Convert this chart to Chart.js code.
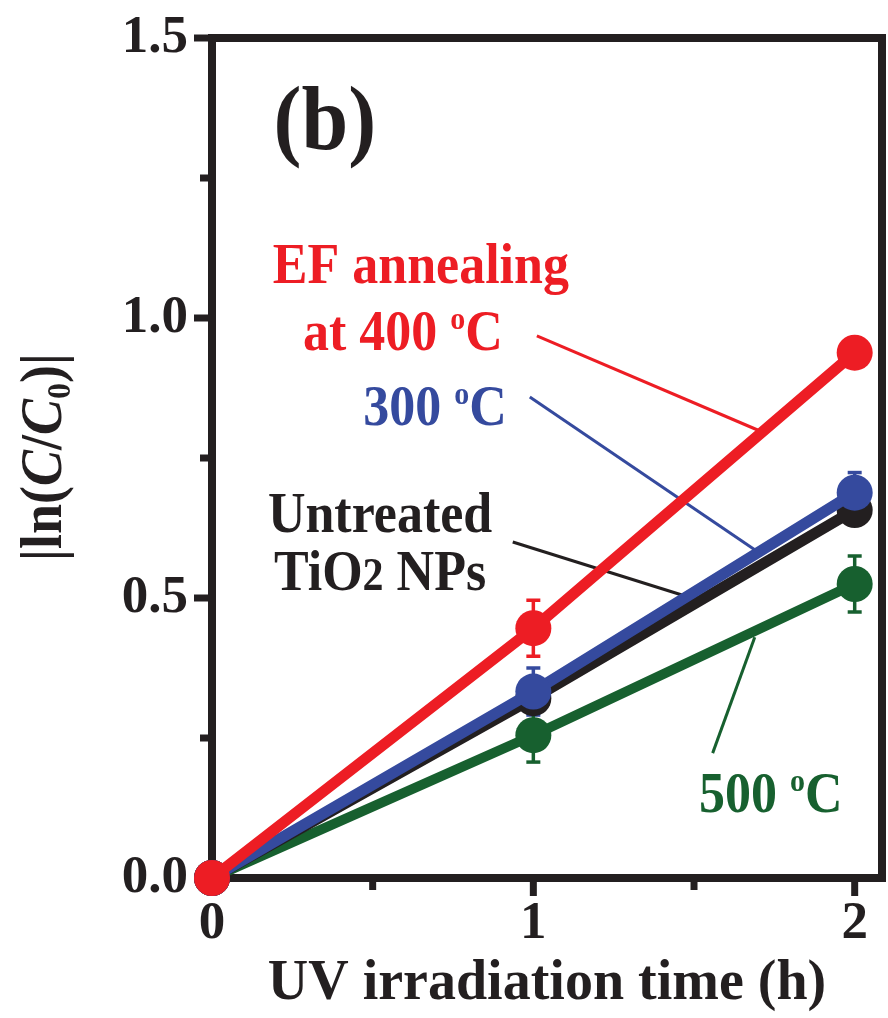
<!DOCTYPE html>
<html>
<head>
<meta charset="utf-8">
<script src="https://cdn.jsdelivr.net/npm/chart.js@4/dist/chart.umd.min.js"></script>
<style>
    html, body { margin: 0; padding: 0; background: #fff; }
    #wrap { width: 888px; height: 1018px; }
</style>
</head>
<body>
<div id="wrap"><canvas id="chart" width="888" height="1018"></canvas></div>
<script>
// UV irradiation time (h)
const hours = [0, 1, 2];
const xMajorTicks = [0, 1, 2];
const xMinorTicks = [0.5, 1.5];
const yMajorTicks = [0, 0.5, 1.0, 1.5];
const yMinorTicks = [0.25, 0.75, 1.25];

// |ln(C/C0)| per sample
const untreated = [0, 0.321, 0.657];
const anneal300 = [0, 0.333, 0.688];
const anneal400 = [0, 0.446, 0.938];
const anneal500 = [0, 0.255, 0.525];

// error bar half heights
const untreatedErr = [0, 0.02, 0.02];
const anneal300Err = [0, 0.042, 0.036];
const anneal400Err = [0, 0.05, 0.02];
const anneal500Err = [0, 0.048, 0.05];

const RED = '#ED1D24';
const BLUE = '#354A9E';
const BLACK = '#231F20';
const GREEN = '#17602F';
const FONT = "'Liberation Serif', 'Times New Roman', serif";
const STRETCH = 1.08; // lettering is a little taller than the stock face

// labels, [x, y] in data units, baseline centred
const labels = [
    { at: [0.351, 1.302], size: 84, color: BLACK, parts: [{ t: '(b)' }] },
    { at: [0.650, 1.0625], size: 52, color: RED, parts: [{ t: 'EF annealing' }] },
    { at: [0.594, 0.943], size: 52, color: RED, parts: [{ t: 'at 400 ' }, { t: 'o', scale: 0.58, rise: 0.38 }, { t: 'C' }] },
    { at: [0.694, 0.809], size: 52, color: BLUE, parts: [{ t: '300 ' }, { t: 'o', scale: 0.58, rise: 0.38 }, { t: 'C' }] },
    { at: [0.523, 0.618], size: 52, color: BLACK, parts: [{ t: 'Untreated' }] },
    { at: [0.523, 0.514], size: 52, color: BLACK, parts: [{ t: 'TiO' }, { t: '2', scale: 0.8 }, { t: ' NPs' }] },
    { at: [1.739, 0.118], size: 52, color: GREEN, parts: [{ t: '500 ' }, { t: 'o', scale: 0.58, rise: 0.38 }, { t: 'C' }] },
];

// leader lines from the labels to their curves
const leaders = [
    { color: RED, from: [1.011, 0.968], to: [1.698, 0.800] },
    { color: BLUE, from: [0.989, 0.859], to: [1.689, 0.586] },
    { color: BLACK, from: [0.936, 0.600], to: [1.465, 0.505] },
    { color: GREEN, from: [1.558, 0.223], to: [1.689, 0.430] },
];

function series(label, values, errs, color, width) {
    return {
        label: label,
        data: hours.map((h, i) => ({ x: h, y: values[i] })),
        errs: errs,
        showLine: true,
        borderColor: color,
        backgroundColor: color,
        borderWidth: width,
        pointRadius: 18,
        pointBorderWidth: 0,
        pointBackgroundColor: color,
        clip: false,
    };
}

function drawRich(ctx, parts, x, y, size, color) {
    ctx.save();
    ctx.translate(x, y);
    ctx.scale(1, STRETCH);
    ctx.fillStyle = color;
    ctx.textBaseline = 'alphabetic';
    ctx.textAlign = 'left';
    let total = 0;
    const runs = parts.map(p => {
        const font = (p.italic ? 'italic ' : '') + 'bold ' + Math.round(size * (p.scale || 1)) + 'px ' + FONT;
        ctx.font = font;
        const w = ctx.measureText(p.t).width;
        total += w;
        return { font, w, p };
    });
    let cx = -total / 2;
    runs.forEach(r => {
        ctx.font = r.font;
        ctx.fillText(r.p.t, cx, -(r.p.rise || 0) * size + (r.p.drop || 0) * size);
        cx += r.w;
    });
    ctx.restore();
}

const decorations = {
    id: 'decorations',
    beforeDatasetsDraw(chart) {
        const ctx = chart.ctx;
        const xs = chart.scales.x, ys = chart.scales.y;
        const a = chart.chartArea;

        // frame and outward ticks
        ctx.save();
        ctx.strokeStyle = BLACK;
        ctx.lineWidth = 8;
        ctx.strokeRect(a.left, a.top, a.right - a.left, a.bottom - a.top);
        ctx.lineWidth = 7;
        ctx.lineCap = 'butt';
        const tick = (x1, y1, x2, y2) => { ctx.beginPath(); ctx.moveTo(x1, y1); ctx.lineTo(x2, y2); ctx.stroke(); };
        xMajorTicks.forEach(v => { const p = xs.getPixelForValue(v); tick(p, a.bottom, p, a.bottom + 18); });
        xMinorTicks.forEach(v => { const p = xs.getPixelForValue(v); tick(p, a.bottom, p, a.bottom + 12); });
        yMajorTicks.forEach(v => { const p = ys.getPixelForValue(v); tick(a.left, p, a.left - 18, p); });
        yMinorTicks.forEach(v => { const p = ys.getPixelForValue(v); tick(a.left, p, a.left - 12, p); });
        ctx.restore();

        // leader lines
        ctx.save();
        ctx.lineWidth = 3;
        leaders.forEach(l => {
            ctx.strokeStyle = l.color;
            ctx.beginPath();
            ctx.moveTo(xs.getPixelForValue(l.from[0]), ys.getPixelForValue(l.from[1]));
            ctx.lineTo(xs.getPixelForValue(l.to[0]), ys.getPixelForValue(l.to[1]));
            ctx.stroke();
        });
        ctx.restore();

        // error bars, drawn under the markers
        ctx.save();
        ctx.lineWidth = 3.5;
        chart.data.datasets.forEach(ds => {
            ctx.strokeStyle = ds.borderColor;
            ds.data.forEach((pt, i) => {
                const e = ds.errs[i];
                if (!e) return;
                const px = xs.getPixelForValue(pt.x);
                const top = ys.getPixelForValue(pt.y + e);
                const bot = ys.getPixelForValue(pt.y - e);
                tick(px, top, px, bot);
                tick(px - 7, top, px + 7, top);
                tick(px - 7, bot, px + 7, bot);
            });
        });
        ctx.restore();

        // text labels
        labels.forEach(l => {
            drawRich(ctx, l.parts, xs.getPixelForValue(l.at[0]), ys.getPixelForValue(l.at[1]), l.size, l.color);
        });

        // y axis title |ln(C/C0)|
        ctx.save();
        ctx.translate(61, 457);
        ctx.rotate(-Math.PI / 2);
        drawRich(ctx, [
            { t: '|ln(' },
            { t: 'C', italic: true },
            { t: '/' },
            { t: 'C', italic: true },
            { t: '0', scale: 0.6, drop: 0.16 },
            { t: ')|' },
        ], 0, 0, 54, BLACK);
        ctx.restore();
    }
};

const tickFont = { family: FONT, size: 53, weight: 'bold' };

new Chart(document.getElementById('chart'), {
    type: 'scatter',
    data: {
        datasets: [
            series('EF annealing at 400 °C', anneal400, anneal400Err, RED, 11),
            series('300 °C', anneal300, anneal300Err, BLUE, 11),
            series('Untreated TiO2 NPs', untreated, untreatedErr, BLACK, 11),
            series('500 °C', anneal500, anneal500Err, GREEN, 10),
        ]
    },
    options: {
        responsive: false,
        animation: false,
        devicePixelRatio: 1,
        layout: { autoPadding: false, padding: { top: 38, right: 6, left: 0, bottom: 0 } },
        plugins: {
            legend: { display: false },
            tooltip: { enabled: false },
        },
        elements: { line: { tension: 0 } },
        scales: {
            x: {
                type: 'linear',
                min: 0,
                max: 2.085,
                afterBuildTicks: s => { s.ticks = xMajorTicks.map(v => ({ value: v })); },
                afterFit: s => { s.height = 140; s.paddingLeft = 0; s.paddingRight = 0; },
                ticks: {
                    font: tickFont,
                    color: BLACK,
                    padding: 15,
                    maxRotation: 0,
                    autoSkip: false,
                    callback: v => String(v),
                },
                grid: { display: false, drawTicks: false },
                border: { display: false },
                title: {
                    display: true,
                    text: 'UV irradiation time (h)',
                    font: { family: FONT, size: 56, weight: 'bold' },
                    color: BLACK,
                    padding: { top: 0, bottom: 0 },
                },
            },
            y: {
                min: 0,
                max: 1.5,
                afterBuildTicks: s => { s.ticks = yMajorTicks.map(v => ({ value: v })); },
                afterFit: s => { s.width = 212; s.paddingTop = 0; s.paddingBottom = 0; },
                ticks: {
                    font: tickFont,
                    color: BLACK,
                    padding: 24,
                    autoSkip: false,
                    callback: v => v.toFixed(1),
                },
                grid: { display: false, drawTicks: false },
                border: { display: false },
            },
        },
    },
    plugins: [decorations],
});
</script>
</body>
</html>
